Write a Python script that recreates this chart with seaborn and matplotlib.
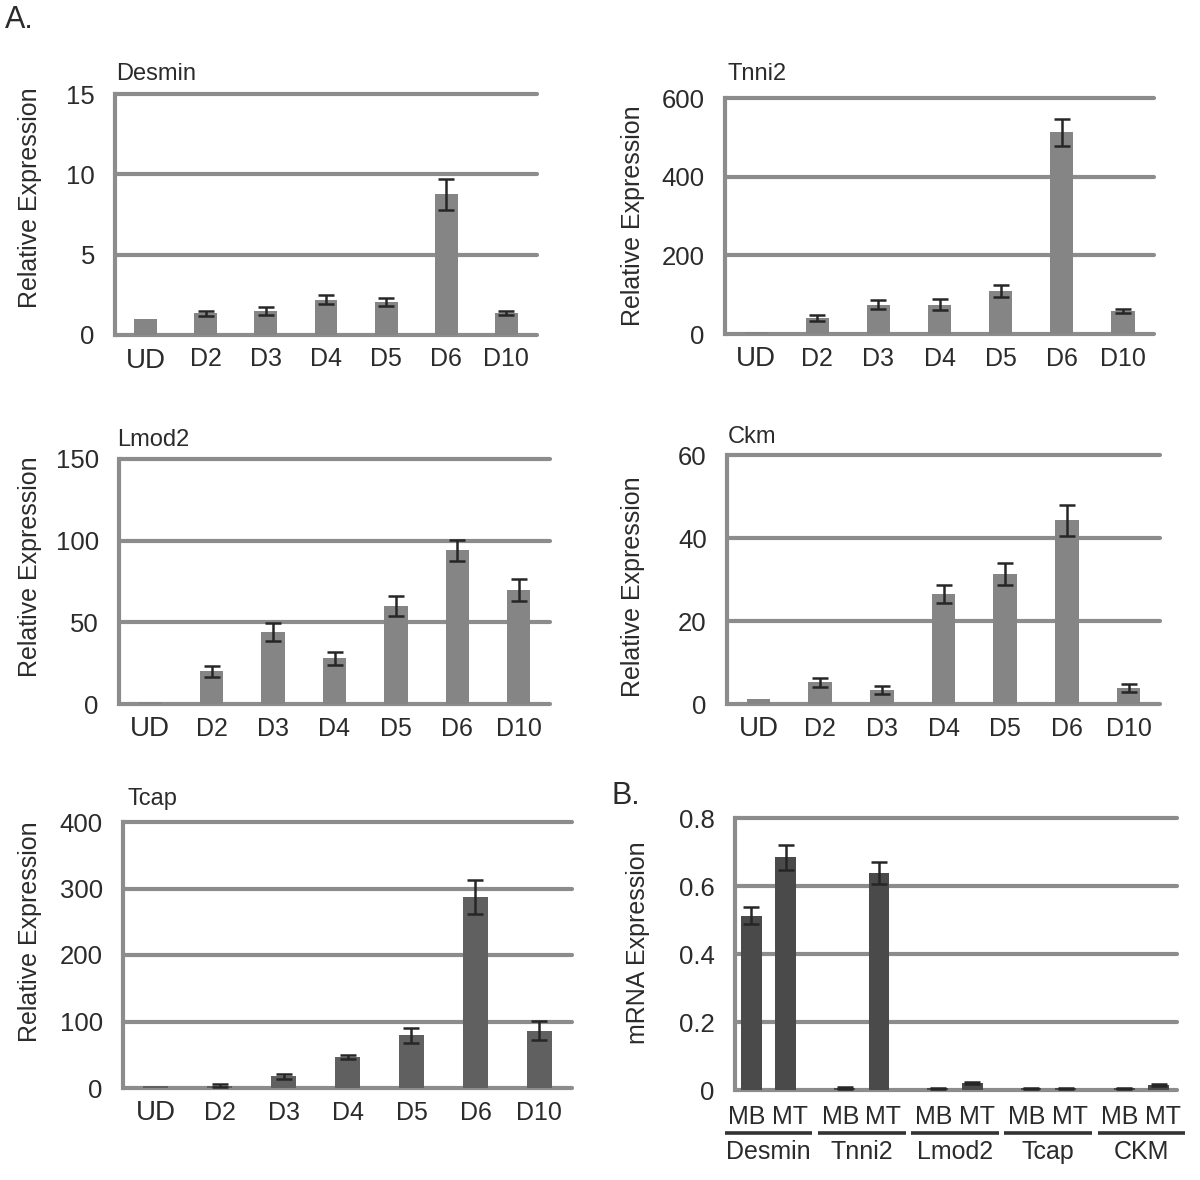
import numpy as np
import pandas as pd
import matplotlib
matplotlib.use('Agg')
import matplotlib.pyplot as plt
import seaborn as sns
from matplotlib import font_manager
from matplotlib.transforms import blended_transform_factory

# time course (panel A)
days = ['UD', 'D2', 'D3', 'D4', 'D5', 'D6', 'D10']
desmin = [1.0, 1.35, 1.5, 2.2, 2.05, 8.75, 1.35]
desmin_err = [np.nan, 0.15, 0.23, 0.27, 0.27, 0.95, 0.13]
tnni2 = [6, 41, 75, 75, 109, 513, 58]
tnni2_err = [np.nan, 8.5, 10.5, 15, 15, 34, 5.5]
lmod2 = [1.2, 20, 44, 28, 60, 94, 70]
lmod2_err = [np.nan, 3.3, 5.4, 4.1, 6.1, 6.7, 6.7]
ckm = [1.1, 5.2, 3.3, 26.5, 31.3, 44.3, 3.8]
ckm_err = [np.nan, 1.0, 1.0, 2.1, 2.6, 3.7, 1.0]
tcap = [3.5, 3.5, 17.5, 46.6, 79, 287, 86]
tcap_err = [np.nan, 2.5, 4, 3.5, 11, 25.5, 14.5]

# MB vs MT (panel B)
genes_b = ['Desmin', 'Tnni2', 'Lmod2', 'Tcap', 'CKM']
cells = ['MB', 'MT']
mb = [0.513, 0.006, 0.005, 0.005, 0.005]
mt = [0.684, 0.639, 0.02, 0.005, 0.015]
mb_err = [0.025, 0.002, 0.002, 0.002, 0.002]
mt_err = [0.036, 0.032, 0.003, 0.002, 0.004]

sns.set_style('white')
plt.rcParams['font.family'] = ['Liberation Sans', 'DejaVu Sans']
names = {f.name for f in font_manager.fontManager.ttflist}
narrow = 'Liberation Sans Narrow' if 'Liberation Sans Narrow' in names else 'Liberation Sans'

W, H = 1200, 1180
grid_c = '#8c8c8c'
err_c = '#262626'
txt_c = '#2b2b2b'
light_bar = '#858585'
mid_bar = '#606060'
dark_bar = '#4a4a4a'

fig = plt.figure(figsize=(12, 11.8), dpi=100)


def rect(left, top, right, bottom):
    return [left / W, 1 - bottom / H, (right - left) / W, (bottom - top) / H]


def style_axis(ax, box, ymax, step, ylabel, label_xy, fmt='{:g}'):
    left, top, right, bottom = box
    ax.set_ylim(0, ymax)
    ticks = np.arange(0, ymax + step / 2, step)
    ax.set_yticks(ticks)
    ax.set_yticklabels([fmt.format(t) for t in ticks], fontfamily=narrow,
                       fontsize=18.5, color=txt_c)
    ax.grid(axis='y', color=grid_c, lw=3)
    ax.grid(axis='x', visible=False)
    for gl in ax.get_ygridlines():
        gl.set_clip_on(False)
    ax.set_axisbelow(True)
    for s in ['top', 'right', 'bottom']:
        ax.spines[s].set_visible(False)
    ax.spines['left'].set_color(grid_c)
    ax.spines['left'].set_linewidth(3)
    ax.tick_params(axis='y', length=5.5, width=3, color=grid_c, pad=9)
    ax.tick_params(axis='x', length=0)
    ax.set_xlabel('')
    ax.set_ylabel(ylabel, fontsize=18, color=txt_c)
    # label_xy: right edge x and centre y of the rotated label, in pixels
    ax.yaxis.set_label_coords((label_xy[0] - left) / (right - left),
                              (bottom - label_xy[1]) / (bottom - top))


def day_panel(box, title, title_xy, label_xy, vals, errs, ymax, step, color):
    ax = fig.add_axes(rect(*box))
    sns.barplot(x=days, y=vals, color=color, width=0.38, saturation=1,
                linewidth=0, ax=ax)
    xs = [p.get_x() + p.get_width() / 2 for p in ax.patches]
    ax.errorbar(xs, vals, yerr=errs, fmt='none', ecolor=err_c,
                elinewidth=1.8, capsize=5.5, capthick=1.8, zorder=4)
    style_axis(ax, box, ymax, step, 'Relative Expression', label_xy)
    ax.set_xticks(xs)
    ax.set_xticklabels(days, fontsize=18, color=txt_c)
    ax.get_xticklabels()[0].set_fontsize(20)
    ax.tick_params(axis='x', pad=9)
    fig.text(title_xy[0] / W, 1 - title_xy[1] / H, title, fontsize=17,
             color=txt_c, ha='left', va='center')
    return ax


day_panel((115, 94, 537, 335), 'Desmin', (116, 74), (42, 198),
          desmin, desmin_err, 15, 5, light_bar)
day_panel((725, 98, 1154, 334), 'Tnni2', (728, 74), (645, 216),
          tnni2, tnni2_err, 600, 200, light_bar)
day_panel((119, 459, 550, 704), 'Lmod2', (117, 440), (42, 567),
          lmod2, lmod2_err, 150, 50, light_bar)
day_panel((727, 455, 1160, 704), 'Ckm', (728, 437), (645, 587),
          ckm, ckm_err, 60, 20, light_bar)
day_panel((123, 822, 572, 1088), 'Tcap', (128, 799), (42, 932),
          tcap, tcap_err, 400, 100, mid_bar)

# panel B
box = (735, 818, 1177, 1090)
axb = fig.add_axes(rect(*box))
df_b = pd.DataFrame({'gene': genes_b * 2,
                     'cell': [cells[0]] * 5 + [cells[1]] * 5,
                     'value': mb + mt})
sns.barplot(data=df_b, x='gene', y='value', hue='cell', order=genes_b,
            hue_order=cells, palette=[dark_bar, dark_bar], width=0.74, gap=0.4,
            saturation=1, linewidth=0, legend=False, ax=axb)
for cont, vals, errs in zip(axb.containers, [mb, mt], [mb_err, mt_err]):
    xs = [b.get_x() + b.get_width() / 2 for b in cont]
    axb.errorbar(xs, vals, yerr=errs, fmt='none', ecolor=err_c,
                 elinewidth=1.8, capsize=5.5, capthick=1.8, zorder=4)
style_axis(axb, box, 0.8, 0.2, 'mRNA Expression', (650, 943))
axb.set_yticklabels(['0', '0.2', '0.4', '0.6', '0.8'], fontfamily=narrow,
                    fontsize=18.5, color=txt_c)
axb.set_xlim(-0.36, 4.38)
axb.set_xticks([])
tr = blended_transform_factory(axb.transData, axb.transAxes)
px = 1.0 / (box[3] - box[1])
for i, g in enumerate(genes_b):
    axb.text(i - 0.23, -27 * px, 'MB', transform=tr, ha='center', va='center',
             fontsize=18, color=txt_c)
    axb.text(i + 0.23, -27 * px, 'MT', transform=tr, ha='center', va='center',
             fontsize=18, color=txt_c)
    axb.plot([i - 0.47, i + 0.47], [-43 * px, -43 * px], transform=tr,
             color='#333333', lw=2.6, clip_on=False, solid_capstyle='butt')
    axb.text(i, -62 * px, g, transform=tr, ha='center', va='center',
             fontsize=18, color=txt_c)

fig.text(5 / W, 1 - 20 / H, 'A.', fontsize=22, color=txt_c, ha='left', va='center')
fig.text(612 / W, 1 - 796 / H, 'B.', fontsize=22, color=txt_c, ha='left', va='center')

fig.savefig('out.png', dpi=100, facecolor='white')
